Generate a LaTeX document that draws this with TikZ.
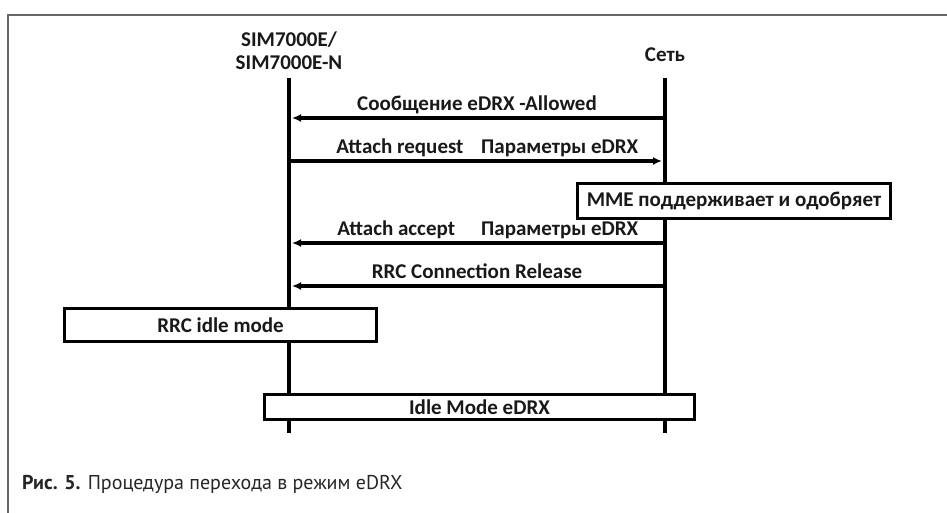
\documentclass[tikz,border=0pt]{standalone}
\usepackage{fontspec}
\setmainfont{Carlito}
\newfontfamily\capfont{PT Sans}
\usetikzlibrary{arrows.meta}

\tikzset{
  lifeline/.style={line width=3.5pt},
  msg/.style={line width=3.2pt,-{Latex[length=9pt,width=8pt]},shorten >=3pt},
  msglabel/.style={font=\fontsize{21}{23}\selectfont\bfseries,text=black!90,inner sep=0pt,text height=14pt,text depth=5pt,above=1pt},
  statebox/.style={draw,line width=3pt,fill=white,font=\fontsize{21}{23}\selectfont\bfseries,text=black!90,inner sep=0pt},
  head/.style={font=\fontsize{21}{23}\selectfont\bfseries,text=black!90,align=center}
}

\begin{document}
\begin{tikzpicture}[x=1pt,y=-1pt]
				\useasboundingbox (0,0) rectangle (947,512);
				% frame
				\draw[black!60,line width=1.5pt] (8,515) -- (8,15) -- (950,15);

				% heads
				\draw (289,51) node[head] (ue) {SIM7000E/\\SIM7000E-N};
				\draw (665,55) node[head] (net) {Сеть};

				% lifelines
				\coordinate (uetop) at (289,78);
				\coordinate (uebot) at (289,433);
				\coordinate (nettop) at (665,78);
				\coordinate (netbot) at (665,433);
				\draw[lifeline] (uetop) -- (uebot);
				\draw[lifeline] (nettop) -- (netbot);

				% message points
				\coordinate (ue1) at (289,118);
				\coordinate (net1) at (665,118);
				\coordinate (ue2) at (289,161);
				\coordinate (net2) at (665,161);
				\coordinate (ue3) at (289,243);
				\coordinate (net3) at (665,243);
				\coordinate (ue4) at (289,286);
				\coordinate (net4) at (665,286);

				\draw[msg] (net1) -- node[msglabel] (allowed) {Сообщение eDRX -Allowed} (ue1);
				\draw[msg] (ue2) -- node[msglabel,pos=0.295] (attreq) {Attach request}
				  node[msglabel,pos=0.72] (par1) {Параметры eDRX} (net2);
				\draw[msg] (net3) -- node[msglabel,pos=0.28] (par2) {Параметры eDRX}
				  node[msglabel,pos=0.715] (attacc) {Attach accept} (ue3);
				\draw[msg] (net4) -- node[msglabel] (release) {RRC Connection Release} (ue4);

				% states
				\draw (734,201) node[statebox,minimum width=313pt,minimum height=35pt] (mme) {MME поддерживает и одобряет};
				\draw (220.5,325) node[statebox,minimum width=312pt,minimum height=33pt] (idle) {RRC idle mode};
				\draw (479.5,407) node[statebox,minimum width=430pt,minimum height=25pt] (edrx) {Idle Mode eDRX};

				% caption
				\draw (22,484) node[anchor=west,inner sep=0pt,font=\capfont\fontsize{20}{22}\selectfont,text=black!85] (caption) {\textbf{Рис. 5.} Процедура перехода в режим eDRX};
			\end{tikzpicture}
\end{document}
